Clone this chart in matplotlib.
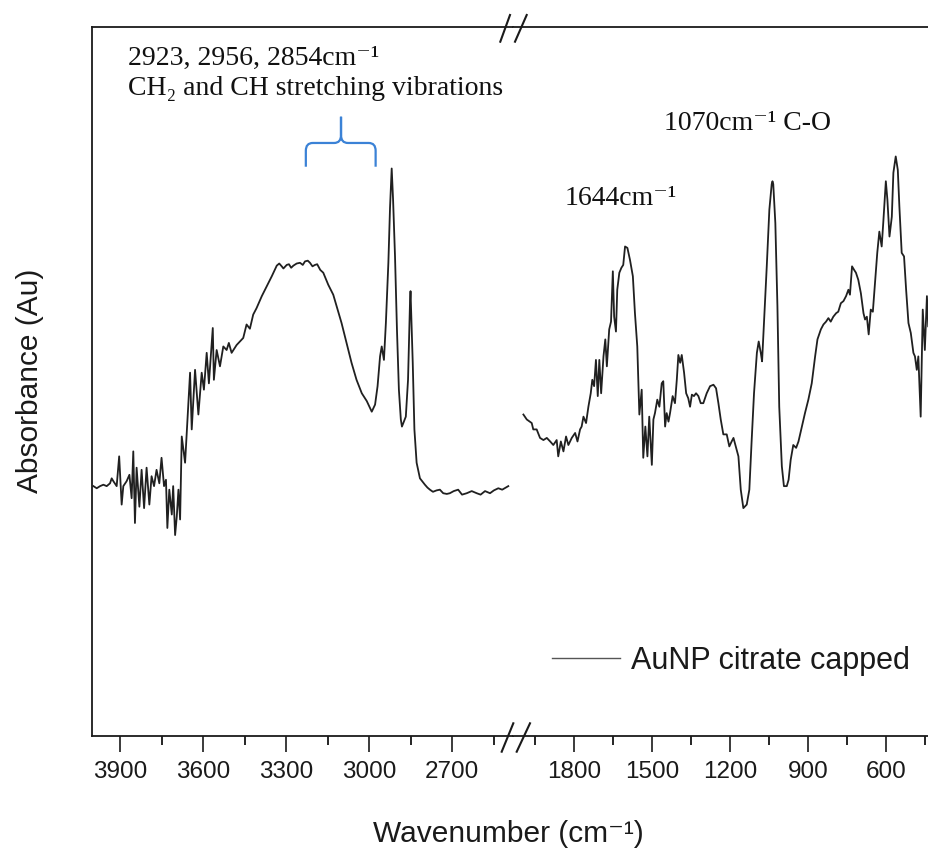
import matplotlib
matplotlib.use("Agg")
import matplotlib.pyplot as plt
from matplotlib.lines import Line2D
from matplotlib.patches import PathPatch
from matplotlib.path import Path
from matplotlib.ticker import MultipleLocator

plt.rcParams['font.family'] = ['Liberation Sans', 'DejaVu Sans']

# FTIR spectrum, high-wavenumber window (cm^-1, absorbance a.u.)
wn_high = [3996, 3984, 3972, 3960, 3948, 3936, 3930, 3924, 3912, 3903, 3894, 3888,
           3876, 3866, 3858, 3852, 3846, 3840, 3830, 3822, 3813, 3804, 3794, 3786,
           3777, 3768, 3758, 3750, 3741, 3734, 3729, 3722, 3713, 3708, 3701, 3695,
           3689, 3683, 3677, 3665, 3653, 3647, 3641, 3629, 3617, 3605, 3597, 3587,
           3579, 3565, 3561, 3551, 3539, 3527, 3515, 3507, 3497, 3479, 3455, 3443,
           3431, 3419, 3407, 3388, 3370, 3352, 3334, 3325, 3316, 3310, 3298, 3290,
           3282, 3274, 3262, 3250, 3240, 3232, 3222, 3214, 3205, 3196, 3188, 3177,
           3166, 3148, 3130, 3118, 3100, 3082, 3064, 3046, 3027, 3009, 2991, 2979,
           2970, 2961, 2955, 2947, 2940, 2931, 2925, 2919, 2914, 2907, 2900, 2893,
           2886, 2882, 2875, 2868, 2860, 2853, 2851, 2843, 2837, 2829, 2817, 2799,
           2790, 2781, 2770, 2757, 2745, 2733, 2720, 2709, 2695, 2679, 2665, 2648,
           2630, 2612, 2598, 2582, 2564, 2550, 2534, 2520, 2498]
abs_high = [0.352, 0.349, 0.352, 0.354, 0.352, 0.356, 0.363, 0.359, 0.352, 0.394, 0.326, 0.352,
            0.359, 0.368, 0.335, 0.401, 0.300, 0.378, 0.323, 0.375, 0.321, 0.378, 0.326, 0.366,
            0.352, 0.375, 0.356, 0.392, 0.352, 0.361, 0.293, 0.347, 0.312, 0.352, 0.283, 0.309,
            0.347, 0.305, 0.422, 0.385, 0.470, 0.512, 0.432, 0.516, 0.453, 0.512, 0.488, 0.540,
            0.497, 0.575, 0.502, 0.544, 0.521, 0.549, 0.544, 0.554, 0.540, 0.551, 0.561, 0.580,
            0.574, 0.594, 0.603, 0.620, 0.634, 0.648, 0.663, 0.666, 0.662, 0.659, 0.664, 0.665,
            0.660, 0.663, 0.666, 0.667, 0.664, 0.669, 0.670, 0.667, 0.662, 0.664, 0.665, 0.657,
            0.653, 0.636, 0.622, 0.606, 0.582, 0.554, 0.526, 0.502, 0.483, 0.472, 0.457, 0.467,
            0.493, 0.535, 0.549, 0.530, 0.582, 0.667, 0.745, 0.800, 0.756, 0.676, 0.573, 0.488,
            0.446, 0.436, 0.443, 0.450, 0.502, 0.610, 0.627, 0.526, 0.432, 0.385, 0.363, 0.354,
            0.350, 0.347, 0.344, 0.346, 0.347, 0.342, 0.341, 0.342, 0.345, 0.347, 0.340, 0.342,
            0.345, 0.342, 0.340, 0.345, 0.342, 0.346, 0.349, 0.347, 0.352]

# FTIR spectrum, fingerprint window
wn_low = [1996, 1983, 1964, 1958, 1945, 1932, 1919, 1906, 1893, 1881, 1868, 1862,
          1852, 1842, 1832, 1823, 1810, 1797, 1788, 1778, 1772, 1765, 1755, 1746,
          1737, 1731, 1724, 1717, 1710, 1704, 1697, 1688, 1681, 1675, 1666, 1659,
          1652, 1647, 1640, 1635, 1627, 1619, 1612, 1605, 1596, 1586, 1575, 1567,
          1560, 1558, 1550, 1541, 1535, 1527, 1519, 1512, 1502, 1496, 1490, 1481,
          1473, 1464, 1458, 1451, 1445, 1438, 1432, 1422, 1413, 1406, 1400, 1393,
          1387, 1378, 1370, 1362, 1355, 1348, 1340, 1332, 1323, 1314, 1304, 1291,
          1278, 1265, 1255, 1246, 1237, 1227, 1214, 1204, 1195, 1188, 1178, 1169,
          1160, 1150, 1137, 1127, 1118, 1109, 1098, 1091, 1083, 1078, 1070, 1060,
          1050, 1041, 1038, 1035, 1027, 1019, 1012, 1002, 994, 983, 976, 968,
          958, 947, 938, 925, 913, 900, 887, 874, 865, 852, 842, 832,
          823, 814, 804, 793, 785, 775, 765, 755, 746, 740, 732, 724,
          717, 708, 698, 688, 682, 675, 668, 660, 652, 643, 635, 627,
          618, 612, 602, 596, 588, 579, 573, 564, 556, 550, 541, 532,
          524, 515, 506, 496, 490, 483, 477, 468, 460, 452, 444, 439, 435]
abs_low = [0.453, 0.446, 0.441, 0.432, 0.432, 0.420, 0.417, 0.420, 0.415, 0.410, 0.417, 0.394,
           0.415, 0.401, 0.422, 0.410, 0.420, 0.427, 0.415, 0.432, 0.436, 0.450, 0.441, 0.464,
           0.483, 0.502, 0.493, 0.530, 0.479, 0.530, 0.483, 0.535, 0.559, 0.521, 0.573, 0.584,
           0.655, 0.591, 0.570, 0.629, 0.653, 0.660, 0.664, 0.690, 0.688, 0.671, 0.648, 0.596,
           0.559, 0.549, 0.453, 0.488, 0.392, 0.436, 0.394, 0.450, 0.382, 0.446, 0.455, 0.474,
           0.464, 0.497, 0.500, 0.436, 0.455, 0.443, 0.455, 0.479, 0.469, 0.502, 0.537, 0.526,
           0.537, 0.512, 0.483, 0.476, 0.464, 0.481, 0.479, 0.483, 0.479, 0.469, 0.469, 0.483,
           0.493, 0.495, 0.490, 0.469, 0.446, 0.425, 0.425, 0.408, 0.415, 0.420, 0.406, 0.394,
           0.347, 0.321, 0.326, 0.347, 0.417, 0.483, 0.540, 0.556, 0.540, 0.528, 0.587, 0.662,
           0.742, 0.778, 0.782, 0.778, 0.723, 0.606, 0.464, 0.380, 0.352, 0.352, 0.361, 0.389,
           0.410, 0.406, 0.415, 0.436, 0.455, 0.474, 0.497, 0.535, 0.559, 0.573, 0.580, 0.584,
           0.589, 0.584, 0.591, 0.596, 0.598, 0.610, 0.613, 0.620, 0.629, 0.622, 0.662, 0.657,
           0.653, 0.643, 0.624, 0.596, 0.587, 0.591, 0.566, 0.601, 0.598, 0.643, 0.681, 0.711,
           0.690, 0.723, 0.782, 0.756, 0.704, 0.732, 0.794, 0.817, 0.798, 0.747, 0.681, 0.676,
           0.629, 0.582, 0.568, 0.540, 0.535, 0.516, 0.535, 0.450, 0.601, 0.544, 0.620, 0.577, 0.624]

ticks_high = [3900, 3600, 3300, 3000, 2700]
ticks_low = [1800, 1500, 1200, 900, 600]
series_label = "AuNP citrate capped"

W, H = 929, 849
fig = plt.figure(figsize=(W / 100, H / 100), dpi=100)


def fx(px):
    return px / W


def fy(py):
    return 1 - py / H


x_left, x_break, x_right = 92.3, 513.0, 929.0
y_top, y_bot = 26.7, 735.7
axL = fig.add_axes([fx(x_left), fy(y_bot), fx(x_break) - fx(x_left), fy(y_top) - fy(y_bot)])
axR = fig.add_axes([fx(x_break), fy(y_bot), fx(x_right) - fx(x_break), fy(y_top) - fy(y_bot)])

line_color = '#202020'
axL.plot(wn_high, abs_high, color=line_color, lw=1.3)
spec, = axR.plot(wn_low, abs_low, color=line_color, lw=1.3)

axL.set_xlim(4000, 2481)
axR.set_xlim(2036, 436)

for ax, majors in ((axL, ticks_high), (axR, ticks_low)):
    ax.set_ylim(0, 1)
    ax.set_xticks(majors)
    ax.set_xticklabels([str(t) for t in majors])
    ax.xaxis.set_minor_locator(MultipleLocator(150))
    ax.tick_params(axis='x', which='major', direction='out', length=11.5, width=1.2,
                   labelsize=17.5, pad=7, colors='#1a1a1a', top=False)
    ax.tick_params(axis='x', which='minor', direction='out', length=6.3, width=1.2, top=False)
    ax.tick_params(axis='y', left=False, right=False, labelleft=False)
    for s in ax.spines.values():
        s.set_linewidth(1.3)
        s.set_color('#1a1a1a')

axL.spines['right'].set_visible(False)
axR.spines['left'].set_visible(False)
axR.spines['right'].set_visible(False)

# axis break marks on the top and bottom frame
for (x0, y0, x1, y1) in [(500.3, 41.7, 510.0, 15.0), (515.0, 41.7, 526.7, 15.0),
                         (501.7, 751.7, 513.3, 723.3), (516.7, 751.7, 530.0, 723.3)]:
    fig.add_artist(Line2D([fx(x0), fx(x1)], [fy(y0), fy(y1)], transform=fig.transFigure,
                          color='#1a1a1a', lw=1.5))

# axis titles
fig.text(fx(508), fy(842), 'Wavenumber (cm\u207b\u00b9)', ha='center', va='baseline',
         fontsize=21.5, color='#1a1a1a')
fig.text(fx(30), fy(381), 'Absorbance (Au)', rotation=90, ha='center', va='center',
         fontsize=21.5, color='#1a1a1a')

# band assignments
serif = ['Liberation Serif', 'DejaVu Serif']
fig.text(fx(128), fy(65), '2923, 2956, 2854cm\u207b\u00b9', family=serif,
         fontsize=20, va='baseline', ha='left', color='#111111')
fig.text(fx(128), fy(95), 'CH\u2082 and CH stretching vibrations', family=serif,
         fontsize=20, va='baseline', ha='left', color='#111111')
fig.text(fx(664), fy(130), '1070cm\u207b\u00b9 C-O', family=serif,
         fontsize=20, va='baseline', ha='left', color='#111111')
fig.text(fx(565), fy(205), '1644cm\u207b\u00b9', family=serif,
         fontsize=20, va='baseline', ha='left', color='#111111')

# curly brace spanning the C-H stretching bands
bx0, bx1, bxm = 3229, 2977, 3102
rx, ry = 25, 0.011
by_bot, by_mid, by_top = 0.8025, 0.836, 0.873
verts = [(bx0, by_bot), (bx0, by_mid - ry), (bx0, by_mid), (bx0 - rx, by_mid),
         (bxm + rx, by_mid), (bxm, by_mid), (bxm, by_mid + ry), (bxm, by_top),
         (bxm, by_mid + ry), (bxm, by_mid), (bxm - rx, by_mid),
         (bx1 + rx, by_mid), (bx1, by_mid), (bx1, by_mid - ry), (bx1, by_bot)]
codes = [Path.MOVETO, Path.LINETO, Path.CURVE3, Path.CURVE3,
         Path.LINETO, Path.CURVE3, Path.CURVE3, Path.LINETO,
         Path.LINETO, Path.CURVE3, Path.CURVE3,
         Path.LINETO, Path.CURVE3, Path.CURVE3, Path.LINETO]
axL.add_patch(PathPatch(Path(verts, codes), facecolor='none', edgecolor='#3b82d6',
                        lw=1.6, clip_on=False))

leg = axR.legend([spec], [series_label], loc='center left',
                 bbox_to_anchor=(fx(551.7), fy(661)), bbox_transform=fig.transFigure,
                 frameon=False, fontsize=22, handlelength=2.25, handletextpad=0.35,
                 borderpad=0, borderaxespad=0)
for t in leg.get_texts():
    t.set_color('#1a1a1a')
leg.get_lines()[0].set_color('#555555')
leg.get_lines()[0].set_linewidth(1.0)

fig.savefig('out.png', dpi=100)
